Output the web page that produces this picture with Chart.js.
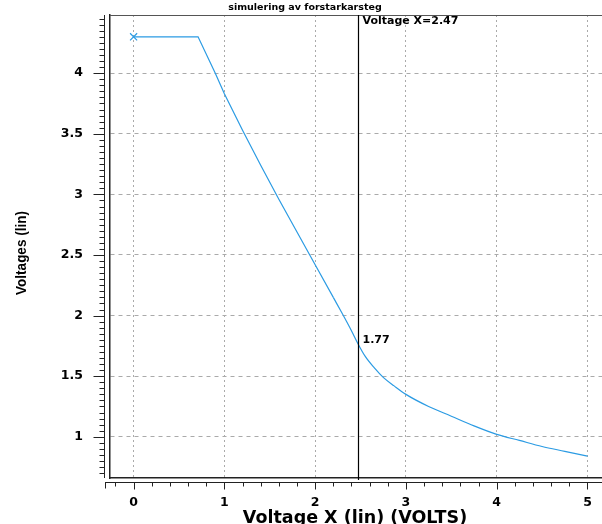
<!DOCTYPE html>
<html>
<head>
<meta charset="utf-8">
<script src="https://cdn.jsdelivr.net/npm/chart.js@4.4.0/dist/chart.umd.min.js"></script>
<style>
  html, body { margin: 0; padding: 0; background: #fff; }
</style>
</head>
<body>
<canvas id="simChart" width="602" height="524"></canvas>
<script>
// data
var xVals = [0, 0.5, 0.71, 0.9, 1.0, 1.2, 1.4, 1.6, 1.8, 2.0, 2.2, 2.3, 2.4, 2.47, 2.55, 2.65, 2.75, 2.87, 3.0, 3.25, 3.5, 3.75, 4.0, 4.25, 4.5, 4.75, 5.0];
var yVals = [4.30, 4.30, 4.30, 4.00, 3.83, 3.53, 3.24, 2.96, 2.69, 2.42, 2.15, 2.015, 1.875, 1.77, 1.665, 1.57, 1.49, 1.42, 1.35, 1.25, 1.17, 1.09, 1.02, 0.97, 0.92, 0.88, 0.84];
var xTicks = [0, 1, 2, 3, 4, 5];
var yTicks = [1, 1.5, 2, 2.5, 3, 3.5, 4];
var cursorX = 2.47;
var cursorY = 1.77;
var chartTitle = "simulering av forstarkarsteg";
var xTitle = "Voltage X (lin) (VOLTS)";
var yTitle = "Voltages (lin)";
var bendIndex = 10; // straight part ends here, curved tail starts

var ptsLine = [], ptsTail = [];
for (var i = 0; i < xVals.length; i++) {
    if (i <= bendIndex) ptsLine.push({x: xVals[i], y: yVals[i]});
    if (i >= bendIndex) ptsTail.push({x: xVals[i], y: yVals[i]});
}

var lineColor = '#2b9be3';
var labelFont = '"DejaVu Sans", Verdana, sans-serif';
var tickFont = '"Liberation Sans", Arial, sans-serif';

function noPad(scale) {
    scale.paddingLeft = 0;
    scale.paddingRight = 0;
    scale.paddingTop = 0;
    scale.paddingBottom = 0;
}

var extras = {
    id: 'extras',
    afterDraw: function(chart) {
        var ctx = chart.ctx;
        var xs = chart.scales.x, ys = chart.scales.y;
        var a = chart.chartArea;
        var W = chart.width;
        ctx.save();
        // top frame line
        ctx.strokeStyle = '#555';
        ctx.lineWidth = 1;
        ctx.beginPath();
        ctx.moveTo(a.left, a.top + 0.5);
        ctx.lineTo(W, a.top + 0.5);
        ctx.stroke();

        // left ruler
        var rx = a.left - 5.5;
        ctx.strokeStyle = '#222';
        ctx.beginPath();
        ctx.moveTo(rx, a.top);
        ctx.lineTo(rx, a.bottom);
        for (var k = 14; k <= 89; k++) {
            var py = Math.round(ys.getPixelForValue(k * 0.05)) + 0.5;
            var major = (k % 10) === 0;
            ctx.moveTo(rx, py);
            ctx.lineTo(rx - (major ? 11 : 5), py);
        }
        ctx.stroke();

        // bottom ruler
        var ry = a.bottom + 4.5;
        ctx.beginPath();
        ctx.moveTo(a.left - 5, ry);
        ctx.lineTo(W, ry);
        ctx.moveTo(a.left - 4.5, ry);
        ctx.lineTo(a.left - 4.5, ry + 6);
        for (var j = -1; j <= 25; j++) {
            var px = Math.round(xs.getPixelForValue(j * 0.2)) + 0.5;
            var maj = (j % 5) === 0;
            ctx.moveTo(px, ry);
            ctx.lineTo(px, ry + (maj ? 7 : 4));
        }
        ctx.stroke();

        // cursor
        var cx = Math.round(xs.getPixelForValue(cursorX)) + 0.5;
        ctx.strokeStyle = '#000';
        ctx.lineWidth = 1.2;
        ctx.beginPath();
        ctx.moveTo(cx, a.top);
        ctx.lineTo(cx, a.bottom + 2);
        ctx.stroke();

        ctx.fillStyle = '#000';
        ctx.font = 'bold 11px ' + labelFont;
        ctx.textBaseline = 'middle';
        ctx.textAlign = 'left';
        ctx.fillText('Voltage X=' + cursorX.toFixed(2), cx + 4, a.top + 6);
        ctx.fillText(cursorY.toFixed(2), cx + 4, ys.getPixelForValue(cursorY) - 3);

        // title
        ctx.font = 'bold 9.5px ' + labelFont;
        ctx.textAlign = 'center';
        ctx.fillText(chartTitle, 305, 8);

        // x axis title
        ctx.font = 'bold 17.5px ' + labelFont;
        ctx.textBaseline = 'alphabetic';
        ctx.fillText(xTitle, 355, 523);

        // y axis title
        ctx.textBaseline = 'middle';
        ctx.translate(22, 253);
        ctx.rotate(-Math.PI / 2);
        ctx.scale(0.9, 1);
        ctx.font = 'bold 15px ' + tickFont;
        ctx.fillText(yTitle, 0, 0);
        ctx.restore();
    }
};

var chartOptions = {
    responsive: false,
    animation: false,
    layout: { autoPadding: false, padding: { top: 15, right: 0, left: 0, bottom: 0 } },
    plugins: {
        legend: { display: false },
        tooltip: { enabled: false }
    },
    scales: {
        x: {
            type: 'linear',
            min: -0.26,
            max: 5.16,
            afterBuildTicks: function(scale) {
                scale.ticks = xTicks.map(function(v) { return {value: v}; });
            },
            afterFit: function(scale) {
                scale.height = 46;
                noPad(scale);
            },
            grid: { color: '#aaa', drawTicks: false, lineWidth: 1 },
            border: { display: true, color: '#222', width: 1.5, dash: [2, 3] },
            ticks: {
                color: '#000',
                padding: 17,
                maxRotation: 0,
                callback: function(v) { return String(v); },
                font: { family: labelFont, size: 12.5, weight: 'bold' }
            }
        },
        y: {
            type: 'linear',
            min: 0.66,
            max: 4.48,
            afterBuildTicks: function(scale) {
                scale.ticks = yTicks.map(function(v) { return {value: v}; });
            },
            afterFit: function(scale) {
                scale.width = 110;
                noPad(scale);
            },
            grid: { color: '#aaa', drawTicks: false, lineWidth: 1 },
            border: { display: true, color: '#222', width: 1.5, dash: [4, 4] },
            ticks: {
                color: '#000',
                padding: 27,
                callback: function(v) { return String(v); },
                font: { family: labelFont, size: 12.5, weight: 'bold' }
            }
        }
    }
};

var lineChart = new Chart(document.getElementById('simChart'), {
    type: 'scatter',
    data: {
        datasets: [{
            label: 'V',
            data: ptsLine,
            showLine: true,
            borderColor: lineColor,
            borderWidth: 1.2,
            tension: 0,
            pointRadius: function(c) { return c.dataIndex === 0 ? 5 : 0; },
            pointStyle: 'cross',
            pointRotation: 45,
            pointBorderColor: lineColor,
            pointBorderWidth: 1.2
        }, {
            label: 'V tail',
            data: ptsTail,
            showLine: true,
            borderColor: lineColor,
            borderWidth: 1.2,
            cubicInterpolationMode: 'monotone',
            pointRadius: 0
        }]
    },
    options: chartOptions,
    plugins: [extras]
});
</script>
</body>
</html>
